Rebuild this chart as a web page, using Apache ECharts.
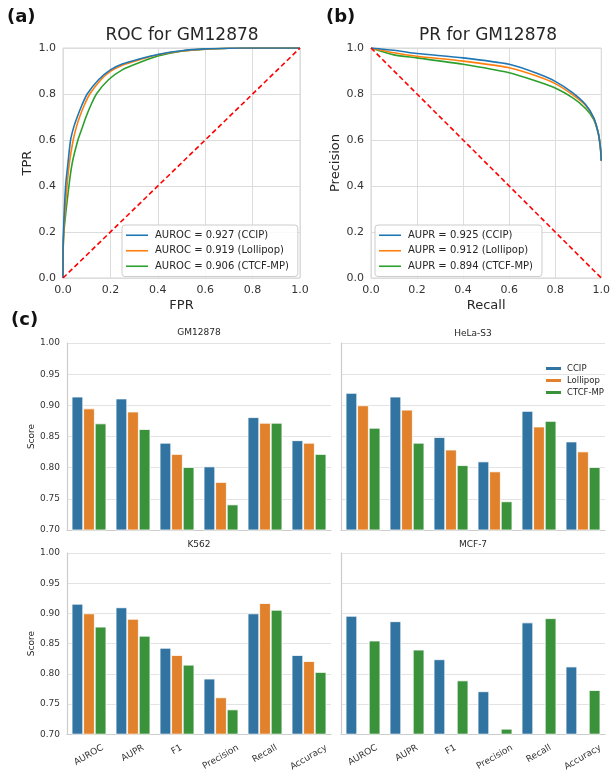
<!DOCTYPE html>
<html><head><meta charset="utf-8">
<script src="https://cdn.jsdelivr.net/npm/echarts@6/dist/echarts.min.js"></script>
<style>html,body{margin:0;padding:0;background:#fff}#c{width:613px;height:773px}</style>
</head><body><div id="c"></div>
<script>
// ---- ROC (GM12878) ----
const rocFprCCIP = [0, 0, 0.002, 0.011, 0.021, 0.032, 0.045, 0.06, 0.08, 0.102, 0.151, 0.2, 0.25, 0.326, 0.4, 0.5, 0.6, 0.7, 0.8, 1.0];
const rocTprCCIP = [0, 0.08, 0.2, 0.4, 0.5, 0.6, 0.655, 0.7, 0.752, 0.8, 0.863, 0.905, 0.93, 0.953, 0.972, 0.988, 0.996, 0.999, 1.0, 1.0];
const rocFprLol = [0, 0, 0.003, 0.017, 0.027, 0.043, 0.056, 0.07, 0.09, 0.113, 0.161, 0.2, 0.25, 0.326, 0.4, 0.5, 0.6, 0.7, 0.8, 1.0];
const rocTprLol = [0, 0.06, 0.2, 0.4, 0.5, 0.6, 0.655, 0.7, 0.752, 0.8, 0.863, 0.898, 0.925, 0.95, 0.971, 0.987, 0.995, 0.999, 1.0, 1.0];
const rocFprCtcf = [0, 0, 0.004, 0.025, 0.039, 0.063, 0.08, 0.097, 0.117, 0.141, 0.193, 0.25, 0.326, 0.4, 0.5, 0.6, 0.7, 0.8, 1.0];
const rocTprCtcf = [0, 0.05, 0.2, 0.4, 0.5, 0.6, 0.65, 0.7, 0.75, 0.8, 0.863, 0.905, 0.938, 0.965, 0.986, 0.995, 0.999, 1.0, 1.0];
// ---- PR (GM12878) ----
const prRecCCIP = [0, 0.1, 0.2, 0.4, 0.6, 0.72, 0.8, 0.875, 0.932, 0.967, 0.988, 0.997, 1.0];
const prPreCCIP = [1.0, 0.99, 0.976, 0.957, 0.929, 0.89, 0.855, 0.806, 0.754, 0.697, 0.626, 0.56, 0.51];
const prRecLol = [0, 0.1, 0.2, 0.4, 0.6, 0.72, 0.8, 0.875, 0.932, 0.967, 0.988, 0.997, 1.0];
const prPreLol = [1.0, 0.979, 0.964, 0.943, 0.914, 0.878, 0.845, 0.797, 0.75, 0.695, 0.626, 0.56, 0.51];
const prRecCtcf = [0, 0.1, 0.2, 0.4, 0.6, 0.72, 0.8, 0.875, 0.932, 0.967, 0.988, 0.997, 1.0];
const prPreCtcf = [1.0, 0.970, 0.957, 0.929, 0.892, 0.855, 0.826, 0.784, 0.737, 0.69, 0.624, 0.56, 0.51];
const rocNames = ['AUROC = 0.927 (CCIP)', 'AUROC = 0.919 (Lollipop)', 'AUROC = 0.906 (CTCF-MP)'];
const prNames = ['AUPR = 0.925 (CCIP)', 'AUPR = 0.912 (Lollipop)', 'AUPR = 0.894 (CTCF-MP)'];
// ---- Bar panels ----
const metrics = ['AUROC', 'AUPR', 'F1', 'Precision', 'Recall', 'Accuracy'];
const methods = ['CCIP', 'Lollipop', 'CTCF-MP'];
const cellLines = ['GM12878', 'HeLa-S3', 'K562', 'MCF-7'];
const gmCCIP = [0.914, 0.911, 0.840, 0.802, 0.881, 0.844];
const gmLol = [0.895, 0.890, 0.822, 0.777, 0.872, 0.840];
const gmCtcf = [0.871, 0.862, 0.801, 0.741, 0.872, 0.822];
const helaCCIP = [0.920, 0.914, 0.849, 0.810, 0.891, 0.842];
const helaLol = [0.900, 0.893, 0.829, 0.794, 0.866, 0.826];
const helaCtcf = [0.864, 0.840, 0.804, 0.746, 0.875, 0.801];
const k562CCIP = [0.916, 0.910, 0.843, 0.792, 0.900, 0.831];
const k562Lol = [0.900, 0.891, 0.831, 0.761, 0.917, 0.821];
const k562Ctcf = [0.878, 0.863, 0.815, 0.741, 0.906, 0.803];
const mcfCCIP = [0.896, 0.887, 0.824, 0.771, 0.885, 0.812];
const mcfLol = [null, null, null, null, null, null];
const mcfCtcf = [0.855, 0.840, 0.789, 0.709, 0.892, 0.773];

const FONT = '"DejaVu Sans", sans-serif';
const TXT = '#262626';
const lineColors = ['#1f77b4', '#ff7f0e', '#2ca02c'];
const barColors = ['#3274a1', '#e1812c', '#3a923a'];
const zip = (a, b) => a.map((v, i) => [v, b[i]]);

// label padding so rotated labels are centred under ticks with aligned tops
const cv = document.createElement('canvas').getContext('2d');
cv.font = '9px "DejaVu Sans"';
const rich = {};
metrics.forEach((m, i) => {
  const w = cv.measureText(m).width;
  const d = w / 4, sx = -2.5;
  const pr = Math.max(0, d - 1.732 * sx);
  const pt = Math.max(0, 0.866 * d + 0.5 * sx);
  rich['l' + i] = { fontSize: 9, fontFamily: FONT, color: '#333', padding: [pt, pr, 0, 0] };
});

const grids = [
  { left: 63, top: 48, width: 237, height: 230, show: true, borderColor: '#d5d5d5', borderWidth: 1 },
  { left: 371, top: 48, width: 235, height: 230, show: true, borderColor: '#d5d5d5', borderWidth: 1 },
  { left: 67, top: 343, width: 264, height: 187 },
  { left: 341, top: 343, width: 264, height: 187 },
  { left: 67, top: 553, width: 264, height: 187 },
  { left: 341, top: 553, width: 264, height: 187 }
];

function valAxis(gi, name, gap) {
  return {
    type: 'value', gridIndex: gi, min: 0, max: 1, interval: 0.2,
    name, nameLocation: 'middle', nameGap: gap,
    nameTextStyle: { fontSize: 13, color: TXT, fontFamily: FONT },
    axisLine: { show: false }, axisTick: { show: false },
    axisLabel: { fontSize: 11, color: '#333', fontFamily: FONT, margin: 7, formatter: v => v.toFixed(1) },
    splitLine: { lineStyle: { color: '#dcdcdc', width: 1 } }
  };
}

const xAxes = [valAxis(0, 'FPR', 21), valAxis(1, 'Recall', 21)];
const yAxes = [valAxis(0, 'TPR', 27), valAxis(1, 'Precision', 28)];
for (let k = 0; k < 4; k++) {
  const gi = k + 2;
  const bottom = k >= 2, left = k % 2 === 0;
  xAxes.push({
    type: 'category', gridIndex: gi, data: metrics,
    axisLine: { lineStyle: { color: '#cccccc', width: 1.2 } },
    axisTick: { show: false },
    axisLabel: bottom ? {
      show: true, interval: 0, rotate: 30, align: 'center', verticalAlign: 'top', margin: 9,
      formatter: (v, i) => '{l' + i + '|' + v + '}', rich
    } : { show: false }
  });
  yAxes.push({
    type: 'value', gridIndex: gi, min: 0.7, max: 1.0, interval: 0.05,
    name: left ? 'Score' : '', nameLocation: 'middle', nameGap: 30,
    nameTextStyle: { fontSize: 9, color: TXT, fontFamily: FONT },
    axisLine: { show: true, lineStyle: { color: '#cccccc', width: 1.2 } },
    axisTick: { show: false },
    axisLabel: { show: left, fontSize: 9, color: '#333', fontFamily: FONT, margin: 7, formatter: v => v.toFixed(2) },
    splitLine: { lineStyle: { color: '#e3e3e3', width: 1 } }
  });
}

const series = [];
const rocData = [zip(rocFprCCIP, rocTprCCIP), zip(rocFprLol, rocTprLol), zip(rocFprCtcf, rocTprCtcf)];
const prData = [zip(prRecCCIP, prPreCCIP), zip(prRecLol, prPreLol), zip(prRecCtcf, prPreCtcf)];
rocData.forEach((d, i) => series.push({
  type: 'line', name: rocNames[i], xAxisIndex: 0, yAxisIndex: 0, data: d,
  smooth: 0.25, showSymbol: false, symbol: 'none', lineStyle: { color: lineColors[i], width: 1.6 },
  itemStyle: { color: lineColors[i] }, z: 3 - i
}));
prData.forEach((d, i) => series.push({
  type: 'line', name: prNames[i], xAxisIndex: 1, yAxisIndex: 1, data: d,
  smooth: 0.25, showSymbol: false, symbol: 'none', lineStyle: { color: lineColors[i], width: 1.6 },
  itemStyle: { color: lineColors[i] }, z: 3 - i
}));
series.push({ type: 'line', name: 'diag1', xAxisIndex: 0, yAxisIndex: 0, data: [[0, 0], [1, 1]], symbol: 'none',
  lineStyle: { color: '#ff0000', width: 1.6, type: [5, 3] }, z: 5 });
series.push({ type: 'line', name: 'diag2', xAxisIndex: 1, yAxisIndex: 1, data: [[0, 1], [1, 0]], symbol: 'none',
  lineStyle: { color: '#ff0000', width: 1.6, type: [5, 3] }, z: 5 });

const barSets = [[gmCCIP, gmLol, gmCtcf], [helaCCIP, helaLol, helaCtcf], [k562CCIP, k562Lol, k562Ctcf], [mcfCCIP, mcfLol, mcfCtcf]];
barSets.forEach((set, k) => set.forEach((vals, j) => series.push({
  type: 'bar', name: methods[j], xAxisIndex: k + 2, yAxisIndex: k + 2, data: vals,
  barGap: '0%', barCategoryGap: '21%',
  itemStyle: { color: barColors[j], borderColor: '#ffffff', borderWidth: 0.8 }
})));

const titles = [
  { text: '(a)', left: 7, top: 8, textStyle: { fontSize: 18, fontWeight: 'bold', color: '#111', fontFamily: FONT } },
  { text: '(b)', left: 326, top: 8, textStyle: { fontSize: 18, fontWeight: 'bold', color: '#111', fontFamily: FONT } },
  { text: '(c)', left: 11, top: 311, textStyle: { fontSize: 18, fontWeight: 'bold', color: '#111', fontFamily: FONT } },
  { text: 'ROC for GM12878', left: 182, top: 27, textAlign: 'center', textStyle: { fontSize: 17, fontWeight: 'normal', color: TXT, fontFamily: FONT } },
  { text: 'PR for GM12878', left: 488, top: 27, textAlign: 'center', textStyle: { fontSize: 17, fontWeight: 'normal', color: TXT, fontFamily: FONT } }
];
const panelCx = [199, 473, 199, 473], panelTop = [328, 329, 540, 540];
cellLines.forEach((n, k) => titles.push({ text: n, left: panelCx[k], top: panelTop[k], textAlign: 'center',
  textStyle: { fontSize: 9, fontWeight: 'normal', color: TXT, fontFamily: FONT } }));
titles.forEach(t => t.padding = 0);

const lineLegend = (names, left) => ({
  data: names, left, top: 225, orient: 'vertical', icon: 'rect', itemWidth: 22, itemHeight: 1.6, itemGap: 3,
  backgroundColor: 'rgba(255,255,255,0.85)', borderColor: '#cccccc', borderWidth: 1, borderRadius: 3,
  padding: [4, 9, 4, 4], textStyle: { fontSize: 10, lineHeight: 12.5, color: TXT, fontFamily: FONT, padding: [0, 0, 0, 2] }
});

const option = {
  animation: false,
  backgroundColor: '#ffffff',
  title: titles,
  grid: grids,
  xAxis: xAxes,
  yAxis: yAxes,
  legend: [
    lineLegend(rocNames, 122),
    lineLegend(prNames, 375),
    { data: methods, left: 544, top: 364, orient: 'vertical', icon: 'rect', itemWidth: 17, itemHeight: 5, itemGap: 3,
      padding: 0, textStyle: { fontSize: 8.5, color: TXT, fontFamily: FONT } }
  ],
  series
};
const chart = echarts.init(document.getElementById('c'), null, { renderer: 'canvas' });
chart.setOption(option);
</script>
</body></html>
